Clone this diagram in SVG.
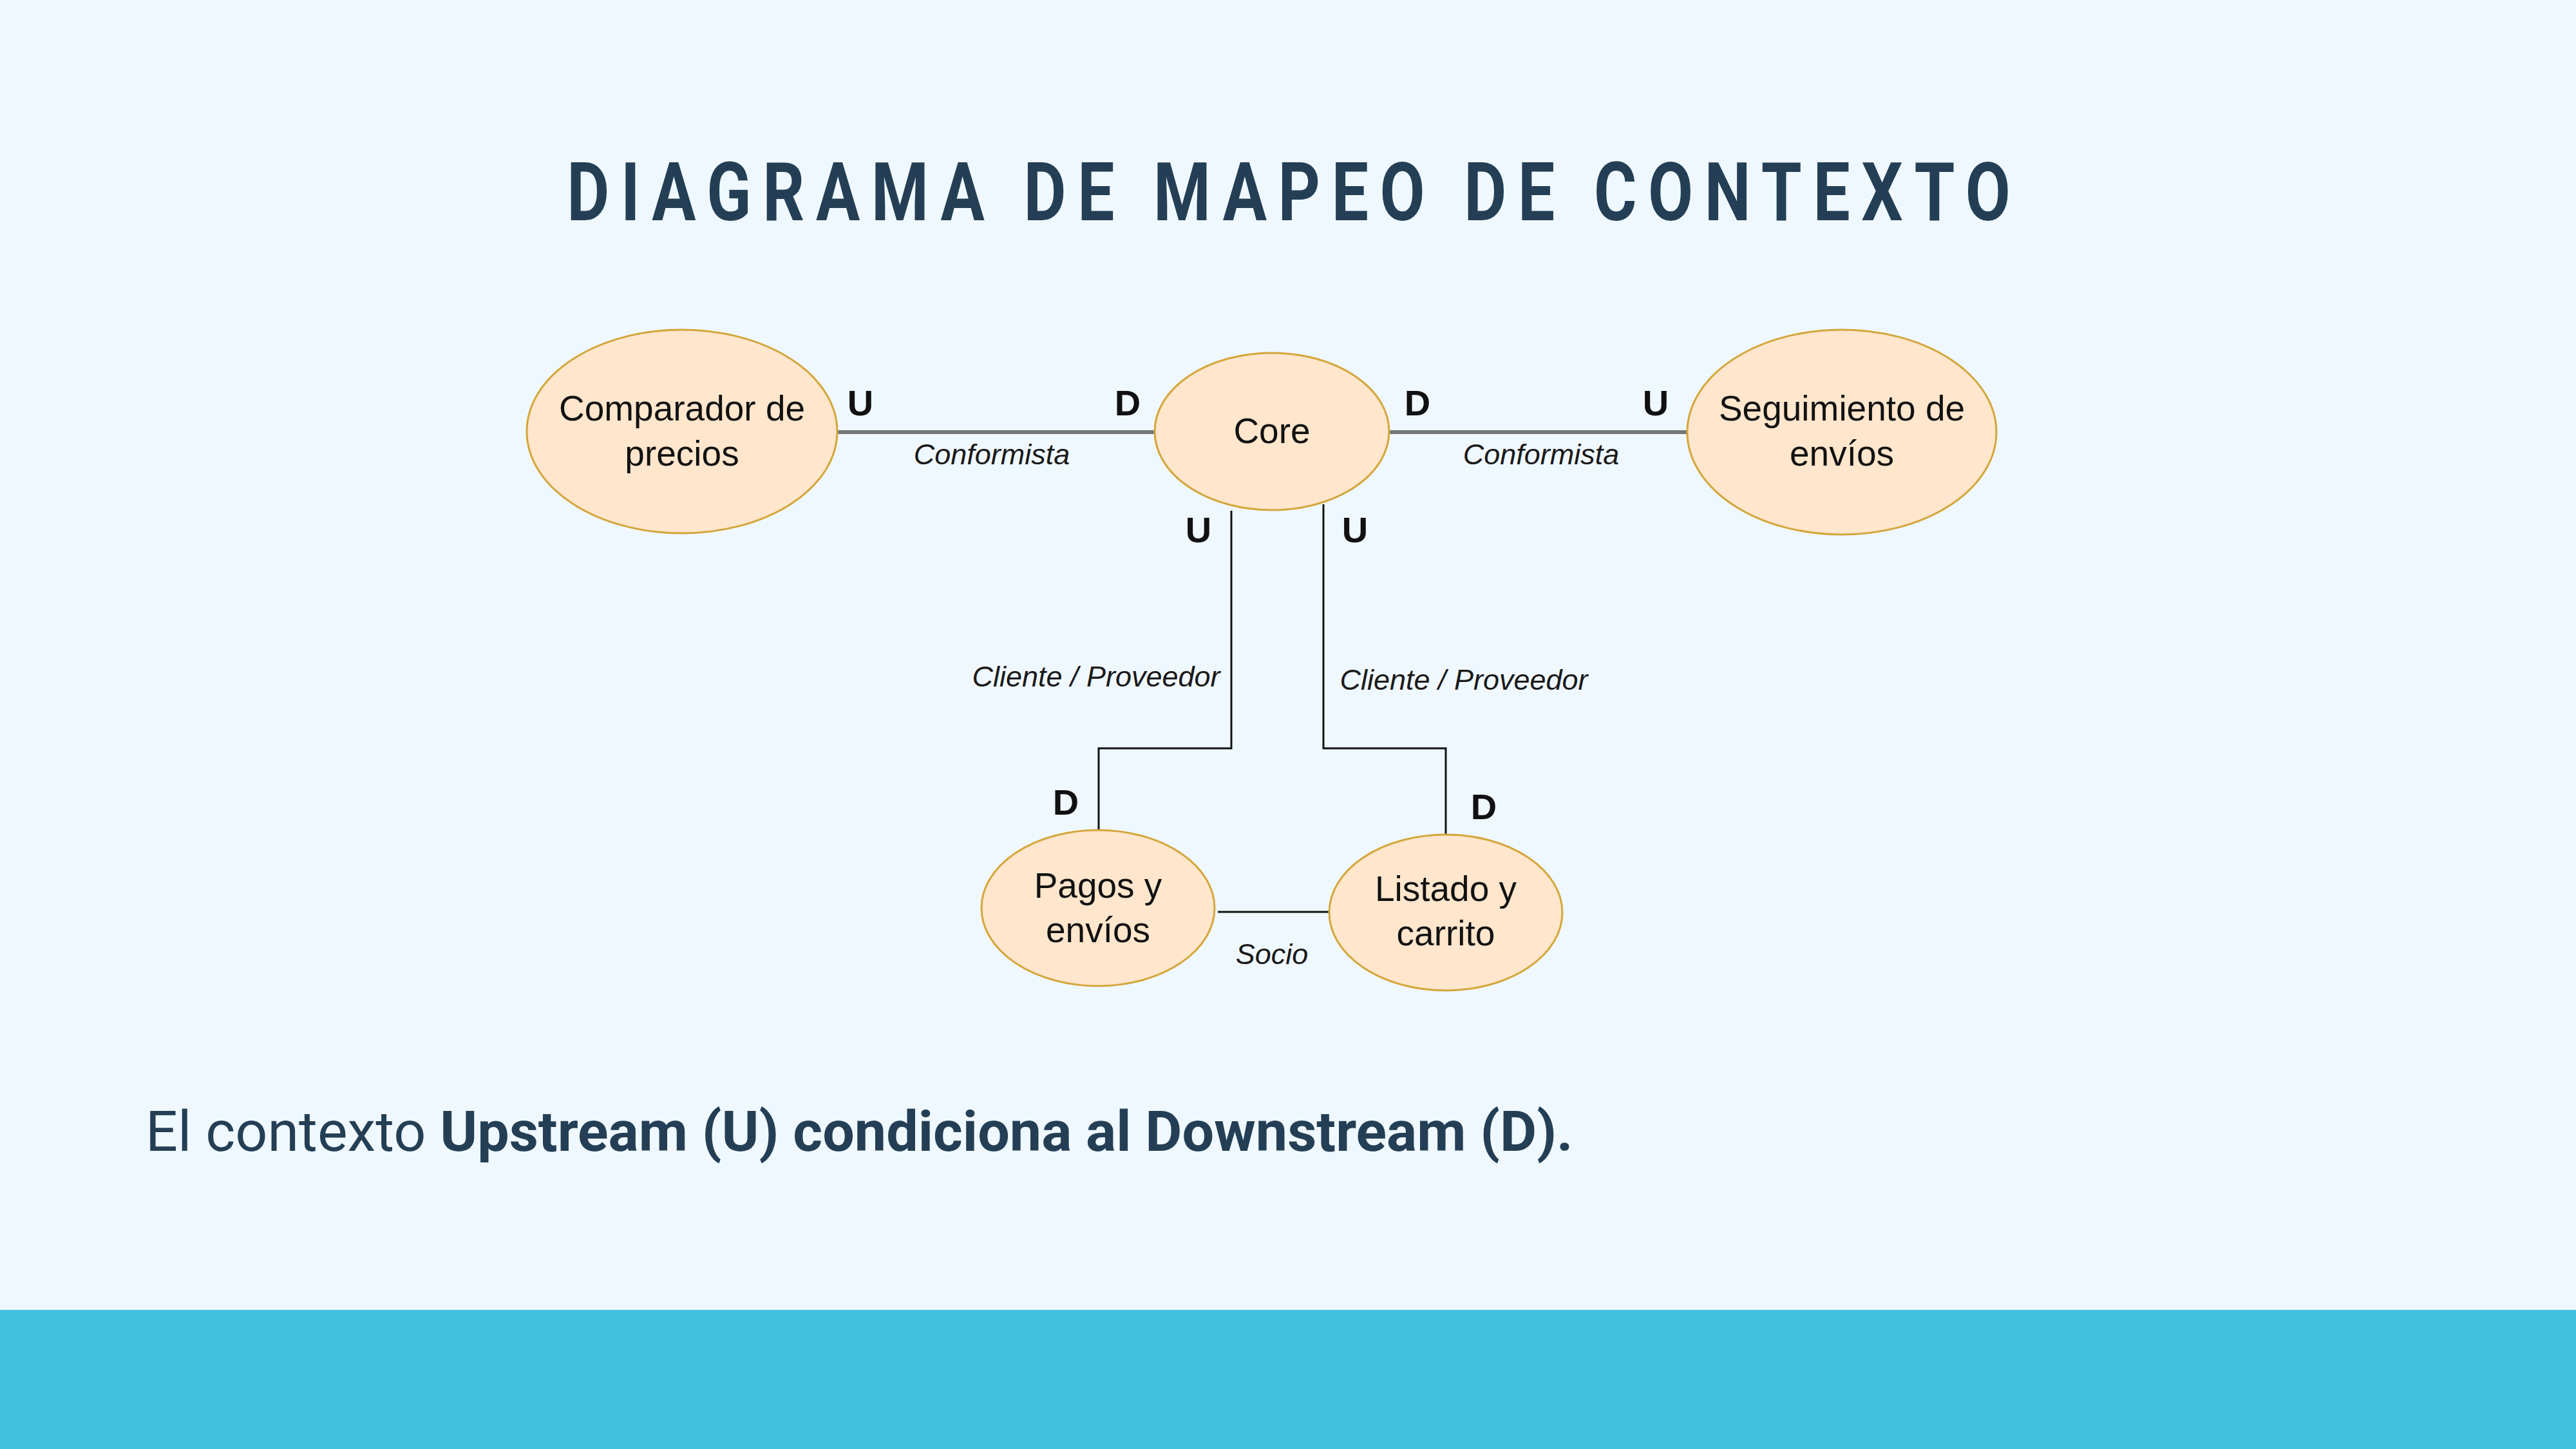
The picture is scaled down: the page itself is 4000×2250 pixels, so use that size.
<svg xmlns="http://www.w3.org/2000/svg" width="4000" height="2250" viewBox="0 0 4000 2250">
<style>
.node{fill:#FFE6CC;stroke:#D4A63A;stroke-width:3}
.nt{font-family:"Liberation Sans",Arial,sans-serif;font-size:55px;fill:#111;text-anchor:middle}
.ud{font-family:"Liberation Sans",Arial,sans-serif;font-size:56px;font-weight:bold;fill:#111;text-anchor:middle}
.lbl{font-family:"Liberation Sans",Arial,sans-serif;font-size:45px;font-style:italic;fill:#1a1a1a;text-anchor:middle}
.thick{stroke:#73777A;stroke-width:6;fill:none}
.thin{stroke:#111;stroke-width:3;fill:none}
</style>
<rect width="4000" height="2250" fill="#F0F8FF"/>
<rect x="0" y="2034" width="4000" height="216" fill="#43C0DD"/>
<text transform="translate(2001,342) scale(0.8,1)" x="0" y="0" text-anchor="middle" textLength="2802" lengthAdjust="spacing" font-family="Roboto,'Liberation Sans',sans-serif" font-weight="bold" font-size="127" fill="#243F55">DIAGRAMA DE MAPEO DE CONTEXTO</text>
<g id="connectors">
<line class="thick" x1="1301" y1="671" x2="1794" y2="671"/>
<line class="thick" x1="2156" y1="671" x2="2621" y2="671"/>
<polyline class="thin" points="1912,793 1912,1162 1706,1162 1706,1289"/>
<polyline class="thin" points="2055,783 2055,1162 2245,1162 2245,1296"/>
<line class="thin" x1="1891" y1="1416" x2="2064" y2="1416"/>
<text class="ud" x="1336" y="645">U</text>
<text class="ud" x="1751" y="645">D</text>
<text class="lbl" x="1540" y="721">Conformista</text>
<text class="ud" x="2201" y="645">D</text>
<text class="ud" x="2571" y="645">U</text>
<text class="lbl" x="2393" y="721">Conformista</text>
<text class="ud" x="1861" y="842">U</text>
<text class="ud" x="2104" y="842">U</text>
<text class="lbl" x="1702" y="1066">Cliente / Proveedor</text>
<text class="lbl" x="2273" y="1071">Cliente / Proveedor</text>
<text class="ud" x="1655" y="1265">D</text>
<text class="ud" x="2304" y="1272">D</text>
<text class="lbl" x="1975" y="1497">Socio</text>
</g>
<g id="comparador">
<ellipse class="node" cx="1059" cy="670" rx="241" ry="158"/>
<text class="nt" x="1059" y="653">Comparador de</text>
<text class="nt" x="1059" y="723">precios</text>
</g>
<g id="core">
<ellipse class="node" cx="1975" cy="670" rx="182" ry="122"/>
<text class="nt" x="1975" y="688">Core</text>
</g>
<g id="seguimiento">
<ellipse class="node" cx="2860" cy="671" rx="240" ry="159"/>
<text class="nt" x="2860" y="653">Seguimiento de</text>
<text class="nt" x="2860" y="723">envíos</text>
</g>
<g id="pagos">
<ellipse class="node" cx="1705" cy="1410" rx="181" ry="121"/>
<text class="nt" x="1705" y="1394">Pagos y</text>
<text class="nt" x="1705" y="1463">envíos</text>
</g>
<g id="listado">
<ellipse class="node" cx="2245" cy="1417" rx="181" ry="121"/>
<text class="nt" x="2245" y="1399">Listado y</text>
<text class="nt" x="2245" y="1468">carrito</text>
</g>
<text x="226" y="1787" font-family="Roboto,'Liberation Sans',sans-serif" font-size="88" fill="#243F55">El contexto <tspan font-weight="bold">Upstream (U) condiciona al Downstream (D).</tspan></text>
</svg>
